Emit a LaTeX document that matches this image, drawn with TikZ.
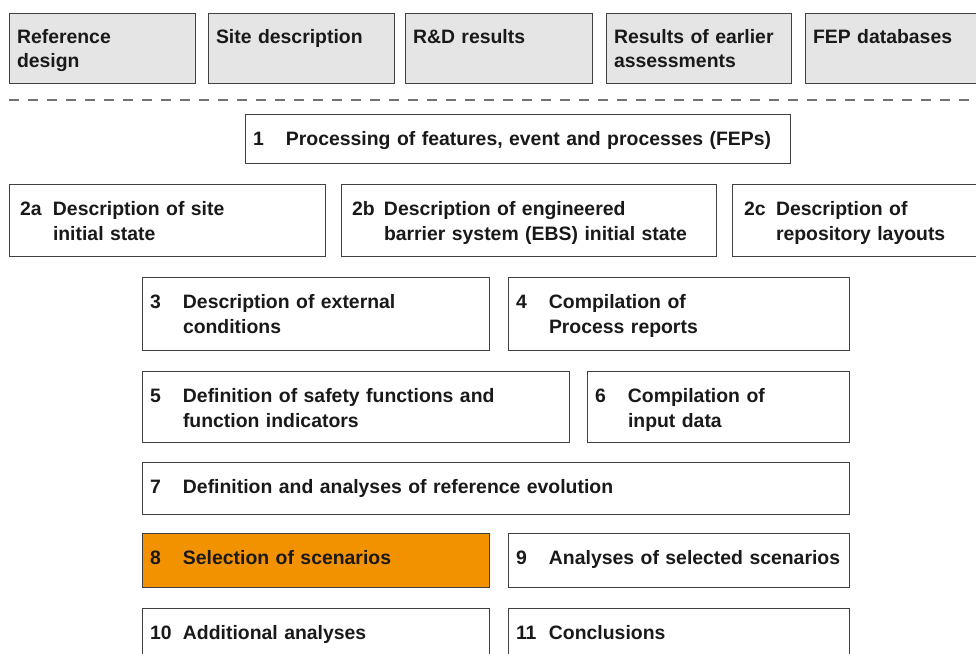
\documentclass[tikz,border=0pt]{standalone}
\usepackage{fontspec}
\setmainfont{Liberation Sans}
\usetikzlibrary{positioning}
\definecolor{selorange}{HTML}{F39200}
\definecolor{inputgray}{HTML}{E5E5E5}
\definecolor{edgegray}{HTML}{404040}
\newcommand{\numtext}[3][33pt]{\makebox[#1][l]{#2}\begin{tabular}[t]{@{}l@{}}#3\end{tabular}}
\tikzset{
    base/.style = {
        draw=edgegray, line width=1pt, anchor=north west, align=left,
        inner xsep=8pt, inner ysep=0pt, outer sep=0pt, text height=31pt, text=black!90,
        font=\fontsize{19.4}{25}\selectfont\bfseries
    },
    % Inputs above the line
    input/.style  = {base, fill=inputgray, text height=30pt, text depth=40pt,
        font=\fontsize{19.4}{24}\selectfont\bfseries},
    % Steps of the assessment
    task/.style   = {base, fill=white},
    chosen/.style = {base, fill=selorange},
    sepline/.style = {line width=1.1pt, draw=black!55, dash pattern=on 10pt off 9pt}
}
\begin{document}
\begin{tikzpicture}[x=1pt, y=-1pt]
    \useasboundingbox (0,0) rectangle (976,653);

    \node (ref) [input, text width=170pt] at (9,13) {Reference\\design};
    \node (site) [input, text width=170pt, right=13pt of ref] {Site description};
    \node (rnd) [input, text width=171pt, right=11pt of site] {R\&D results};
    \node (earlier) [input, text width=169pt, right=14pt of rnd] {Results of earlier\\assessments};
    \node (fepdb) [input, text width=184pt, right=14pt of earlier] {FEP databases};

    \coordinate (sepl) at (9,100);
    \coordinate (sepr) at (976,100);
    \draw [sepline] (sepl) -- (sepr);

    \node (fep) [task, text width=529pt, text depth=18pt] at (245,114)
        {\numtext{1}{Processing of features, event and processes (FEPs)}};

    \node (siteinit) [task, text width=300pt, text depth=41pt] at (9,184)
        {\numtext[36pt]{\hspace*{3pt}2a}{Description of site\\initial state}};
    \node (ebs) [task, text width=359pt, text depth=41pt, right=16pt of siteinit]
        {\numtext[35pt]{\hspace*{3pt}2b}{Description of engineered\\barrier system (EBS) initial state}};
    \node (layout) [task, text width=244pt, text depth=41pt, right=16pt of ebs]
        {\numtext[36pt]{\hspace*{4pt}2c}{Description of\\repository layouts}};

    \node (extcond) [task, text width=331pt, text depth=42pt] at (142,277)
        {\numtext{3}{Description of external\\conditions}};
    \node (procrep) [task, text width=325pt, text depth=42pt, right=19pt of extcond]
        {\numtext{4}{Compilation of\\Process reports}};

    \node (safety) [task, text width=411pt, text depth=40pt] at (142,371)
        {\numtext{5}{Definition of safety functions and\\function indicators}};
    \node (indata) [task, text width=246pt, text depth=40pt, right=18pt of safety]
        {\numtext{6}{Compilation of\\input data}};

    \node (refevol) [task, text width=691pt, text depth=21pt] at (142,462)
        {\numtext{7}{Definition and analyses of reference evolution}};

    \node (scensel) [chosen, text width=331pt, text depth=23pt] at (142,533)
        {\numtext{8}{Selection of scenarios}};
    \node (scenana) [task, text width=325pt, text depth=23pt, right=19pt of scensel]
        {\numtext{9}{Analyses of selected scenarios}};

    \node (addana) [task, text width=331pt, text depth=49pt] at (142,608)
        {\numtext{10}{Additional analyses}};
    \node (concl) [task, text width=325pt, text depth=49pt, right=19pt of addana]
        {\numtext{11}{Conclusions}};
\end{tikzpicture}
\end{document}
